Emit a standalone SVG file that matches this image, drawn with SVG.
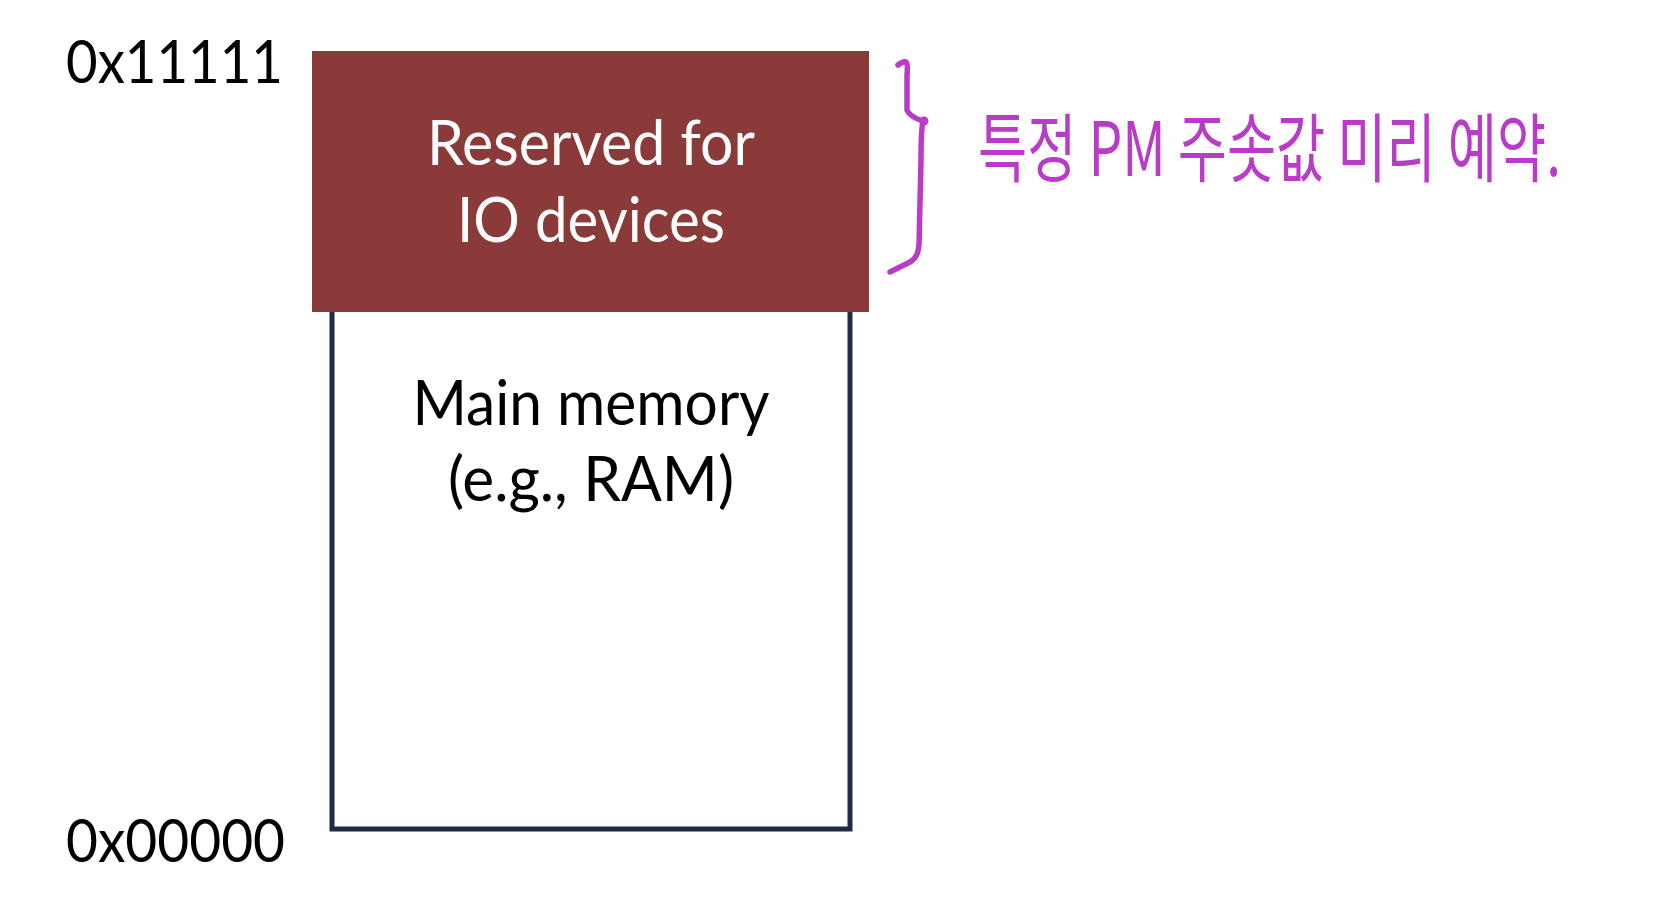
<svg xmlns="http://www.w3.org/2000/svg" width="1676" height="898" viewBox="0 0 1676 898">
<style>
.addr{font-family:"Lato","Liberation Sans",sans-serif;font-size:60px;fill:#000}
.lbl{font-family:"Lato","Liberation Sans",sans-serif;font-size:62px;text-anchor:middle}
.note{font-family:"Noto Sans CJK KR","Noto Sans",sans-serif;font-size:64px;fill:#b83cc8}
.pen{fill:none;stroke:#b83cc8;stroke-width:5.5;stroke-linecap:round;stroke-linejoin:round}
</style>
<rect width="1676" height="898" fill="#ffffff"/>
<g id="main-memory">
<rect x="332" y="300" width="518" height="529" fill="#ffffff" stroke="#1f2c46" stroke-width="5"/>
<text class="lbl" x="591" y="425" textLength="357" lengthAdjust="spacingAndGlyphs" fill="#000">Main memory</text>
<text class="lbl" x="591" y="501" textLength="286" lengthAdjust="spacingAndGlyphs" fill="#000">(e.g., RAM)</text>
</g>
<g id="io-reserved">
<rect x="312" y="51" width="557" height="261" fill="#8a3b39"/>
<text class="lbl" x="591" y="165" textLength="328" lengthAdjust="spacingAndGlyphs" fill="#ffffff">Reserved for</text>
<text class="lbl" x="591" y="242" textLength="268" lengthAdjust="spacingAndGlyphs" fill="#ffffff">IO devices</text>
</g>
<g id="addresses">
<text class="addr" x="66" y="83" textLength="217" lengthAdjust="spacingAndGlyphs">0x11111</text>
<text class="addr" x="66" y="862" textLength="219" lengthAdjust="spacingAndGlyphs">0x00000</text>
</g>
<g id="annotation">
<path class="pen" d="M898,65 Q903,61 906,62 Q908,64 907,75 L907,110 Q910,117 923,121 M923,121 Q921,130 921,160 L919,245 Q918,258 910,262 L890,272"/>
<circle cx="924" cy="121" r="3" fill="none" stroke="#b83cc8" stroke-width="3"/>
<text class="note" transform="translate(978,176) scale(1,1.18)" x="0" y="0" textLength="583" lengthAdjust="spacingAndGlyphs">특정 PM 주솟값 미리 예약.</text>
</g>
</svg>
